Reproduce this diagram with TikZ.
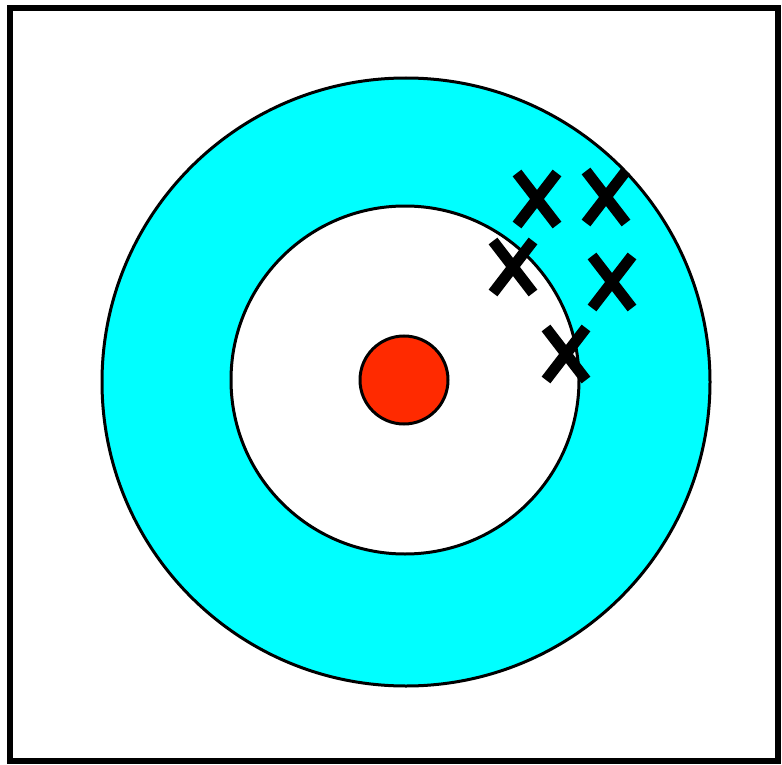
\documentclass[tikz,border=0pt]{standalone}
\definecolor{ringcyan}{HTML}{00FFFF}
\definecolor{dotred}{HTML}{FF2A00}
\begin{document}
\begin{tikzpicture}[x=1pt,y=-1pt,
  disk/.style={circle,draw=black,line width=3pt,inner sep=0pt},
  xmark/.style={line width=11pt,line cap=butt}]
\useasboundingbox (0,0) rectangle (782,765);
\draw[line width=6pt] (10,8) rectangle (778,761);
\node[disk,fill=ringcyan,minimum size=608pt] (outer) at (406,382) {};
\node[disk,fill=white,minimum size=348pt] (inner) at (405,380) {};
\node[disk,fill=dotred,minimum size=88pt] (dot) at (404,380) {};
\foreach \n/\cx/\cy in {a/537/199, b/606/197, c/513/267, d/612/282, e/566/354}{
  \coordinate (\n) at (\cx,\cy);
  \draw[xmark] ([shift={(-20,-26)}]\n) -- ([shift={(20,26)}]\n);
  \draw[xmark] ([shift={(20,-26)}]\n) -- ([shift={(-20,26)}]\n);
}
\end{tikzpicture}
\end{document}
